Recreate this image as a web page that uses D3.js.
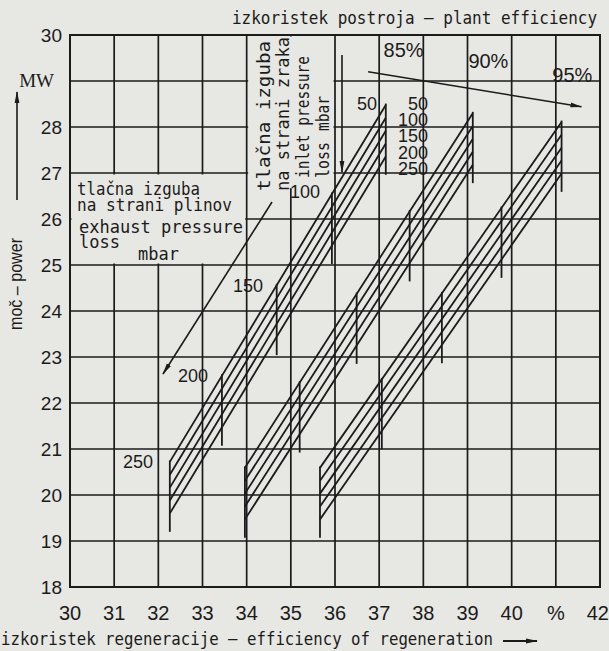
<!DOCTYPE html>
<html><head><meta charset="utf-8">
<script src="https://cdn.jsdelivr.net/npm/d3@7"></script>
<style>body{margin:0;background:#e7e7e3}svg{display:block}</style>
</head><body><svg id="chart" width="609" height="651"></svg>
<script>
// Axis ticks
const xTicks = [30, 31, 32, 33, 34, 35, 36, 37, 38, 39, 40, 41, 42];
const xTickLabels = ["30", "31", "32", "33", "34", "35", "36", "37", "38", "39", "40", "%", "42"];
const yTicks = [18, 19, 20, 21, 22, 23, 24, 25, 26, 27, 28, 29, 30];
const yTickLabels = ["18", "19", "20", "21", "22", "23", "24", "25", "26", "27", "28", "", "30"];

// Plant efficiency families, inlet pressure loss lines, exhaust pressure loss marks
const plantEfficiency = ["85%", "90%", "95%"];
const inletLoss = [50, 100, 150, 200, 250];          // mbar
const exhaustLoss = [250, 200, 150, 100];           // mbar

// 50 mbar inlet-loss line of each family: regeneration efficiency (%) and power (MW) at both ends
const regenStart = [32.26, 33.96, 35.66];
const regenEnd   = [37.15, 39.12, 41.13];
const powerStart = [20.72, 20.59, 20.59];
const powerEnd   = [28.48, 28.30, 28.11];

// Regeneration efficiency where the exhaust pressure loss steps (250|200|150|100 mbar)
const exhaustMarks85 = [33.44, 34.68, 35.93];
const exhaustMarks90 = [35.20, 36.49, 37.69];
const exhaustMarks95 = [37.06, 38.42, 39.77];

// Power drop (MW) per 50 mbar of additional inlet pressure loss
const inletStep = 0.28;

const families = plantEfficiency.map((name, k) => ({
  name,
  x0: regenStart[k], x1: regenEnd[k], p0: powerStart[k], p1: powerEnd[k],
  marks: [exhaustMarks85, exhaustMarks90, exhaustMarks95][k]
}));

const ink = "#1b1b1b";
const paper = "#e7e7e3";
const svg = d3.select("#chart");
const x = d3.scaleLinear().domain([30, 42]).range([70, 600]);
const y = d3.scaleLinear().domain([18, 30]).range([587, 35]);

svg.append("rect").attr("width", 609).attr("height", 651).attr("fill", paper);

const defs = svg.append("defs");
defs.append("marker").attr("id", "head").attr("viewBox", "0 0 12 6")
  .attr("refX", 11).attr("refY", 3).attr("markerWidth", 12).attr("markerHeight", 6)
  .attr("markerUnits", "userSpaceOnUse").attr("orient", "auto")
  .append("path").attr("d", "M0,0.6 L12,3 L0,5.4 Z").attr("fill", ink);

// Grid
const grid = svg.append("g").attr("stroke", ink).attr("stroke-width", 1.7);
grid.selectAll("line.v").data(xTicks).join("line")
  .attr("x1", d => x(d)).attr("x2", d => x(d)).attr("y1", y(18)).attr("y2", y(30));
grid.selectAll("line.h").data(yTicks).join("line")
  .attr("y1", d => y(d)).attr("y2", d => y(d)).attr("x1", x(30)).attr("x2", x(42));

// Blank fields behind the two legend texts
svg.append("rect").attr("x", x(30) + 1.5).attr("y", y(27) + 1.5)
  .attr("width", x(34) - x(30) - 3).attr("height", y(25) - y(27) - 3).attr("fill", paper);
svg.append("rect").attr("x", x(34) + 1.5).attr("y", y(30) + 1.5)
  .attr("width", x(36) - x(34) - 3).attr("height", y(26.67) - y(30) - 1.5).attr("fill", paper);

// Frame
svg.append("rect").attr("x", x(30)).attr("y", y(30)).attr("width", x(42) - x(30))
  .attr("height", y(18) - y(30)).attr("fill", "none").attr("stroke", ink).attr("stroke-width", 2);

// Tick labels
const numFont = "'Liberation Sans', Arial, sans-serif";
svg.append("g").selectAll("text").data(xTicks).join("text")
  .attr("x", d => d === 42 ? 609 : x(d)).attr("y", 620)
  .attr("text-anchor", d => d === 42 ? "end" : "middle")
  .attr("font-family", numFont).attr("font-size", 20).attr("fill", ink)
  .text((d, i) => xTickLabels[i]);
svg.append("g").selectAll("text").data(yTicks).join("text")
  .attr("x", 62).attr("y", d => y(d) + 7).attr("text-anchor", "end")
  .attr("font-family", numFont).attr("font-size", 19).attr("fill", ink)
  .text((d, i) => yTickLabels[i]);
svg.append("text").attr("x", 54).attr("y", y(29) + 6).attr("text-anchor", "end")
  .attr("font-family", "'Liberation Serif', serif").attr("font-size", 19).attr("fill", ink).text("MW");

// Axis titles
const monoFont = "'DejaVu Sans Mono', monospace";
svg.append("text").attr("x", 232).attr("y", 24)
  .attr("textLength", 365).attr("lengthAdjust", "spacingAndGlyphs")
  .attr("font-family", monoFont).attr("font-size", 17.5).attr("fill", ink)
  .text("izkoristek postroja – plant efficiency");
svg.append("text").attr("x", 1).attr("y", 645)
  .attr("textLength", 492).attr("lengthAdjust", "spacingAndGlyphs")
  .attr("font-family", monoFont).attr("font-size", 17).attr("fill", ink)
  .text("izkoristek regeneracije – efficiency of regeneration");
svg.append("line").attr("x1", 503).attr("y1", 641).attr("x2", 537).attr("y2", 641)
  .attr("stroke", ink).attr("stroke-width", 2.2).attr("marker-end", "url(#head)");
svg.append("text").attr("transform", "translate(22,284) rotate(-90)").attr("text-anchor", "middle")
  .attr("textLength", 92).attr("lengthAdjust", "spacingAndGlyphs")
  .attr("font-family", numFont).attr("font-size", 18).attr("fill", ink).text("moč – power");
svg.append("line").attr("x1", 17).attr("y1", 200).attr("x2", 17).attr("y2", 92)
  .attr("stroke", ink).attr("stroke-width", 1.6).attr("marker-end", "url(#head)");

// Families of inlet-loss lines with exhaust-loss marks
const lineG = svg.append("g").attr("stroke", ink).attr("stroke-width", 1.8).attr("fill", "none");
const last = inletLoss.length - 1;
families.forEach(f => {
  const slope = (f.p1 - f.p0) / (f.x1 - f.x0);
  const topAt = r => f.p0 + slope * (r - f.x0);
  inletLoss.forEach((il, i) => {
    lineG.append("line")
      .attr("x1", x(f.x0)).attr("y1", y(f.p0 - i * inletStep))
      .attr("x2", x(f.x1)).attr("y2", y(f.p1 - i * inletStep));
  });
  [f.x0, ...f.marks, f.x1].forEach(r => {
    lineG.append("line").attr("x1", x(r)).attr("x2", x(r))
      .attr("y1", y(topAt(r) + 0.03)).attr("y2", y(topAt(r) - last * inletStep - 0.4));
  });
});

// Plant efficiency labels and direction arrow
const pctPos = [[37.1, 29.52], [39.02, 29.28], [40.92, 28.98]];
svg.append("g").selectAll("text").data(plantEfficiency).join("text")
  .attr("x", (d, i) => x(pctPos[i][0])).attr("y", (d, i) => y(pctPos[i][1]))
  .attr("font-family", numFont).attr("font-size", 20).attr("fill", ink).text(d => d);
svg.append("line").attr("x1", x(36.75)).attr("y1", y(29.2)).attr("x2", x(41.58)).attr("y2", y(28.44))
  .attr("stroke", ink).attr("stroke-width", 1.6).attr("marker-end", "url(#head)");

// Inlet pressure loss legend (vertical text)
const rot = svg.append("g").attr("font-family", monoFont).attr("font-size", 17).attr("fill", ink);
[["tlačna izguba", 270, 191, 150], ["na strani zraka", 289, 191, 154],
 ["inlet pressure", 309, 178, 122], ["loss", 329, 178, 36], ["mbar", 329, 131, 35]]
  .forEach(t => rot.append("text")
    .attr("transform", `translate(${t[1]},${t[2]}) rotate(-90)`)
    .attr("textLength", t[3]).attr("lengthAdjust", "spacingAndGlyphs").text(t[0]));
svg.append("line").attr("x1", 342).attr("y1", 55).attr("x2", 342).attr("y2", 172)
  .attr("stroke", ink).attr("stroke-width", 1.6).attr("marker-end", "url(#head)");
svg.append("text").attr("x", 377).attr("y", 110).attr("text-anchor", "end")
  .attr("font-family", numFont).attr("font-size", 18).attr("fill", ink).text(inletLoss[0]);
svg.append("g").selectAll("text").data(inletLoss).join("text")
  .attr("x", 428).attr("y", (d, i) => 110 + i * 16.2).attr("text-anchor", "end")
  .attr("font-family", numFont).attr("font-size", 18).attr("fill", ink).text(d => d);

// Exhaust pressure loss legend
const box = svg.append("g").attr("font-family", monoFont).attr("font-size", 17).attr("fill", ink);
[["tlačna izguba", 77, 195, 123], ["na strani plinov", 77, 211, 155],
 ["exhaust pressure", 79, 233, 164], ["loss", 79, 248, null], ["mbar", 138, 260, null]]
  .forEach(t => {
    const el = box.append("text").attr("x", t[1]).attr("y", t[2]).text(t[0]);
    if (t[3]) el.attr("textLength", t[3]).attr("lengthAdjust", "spacingAndGlyphs");
  });
svg.append("line").attr("x1", 272).attr("y1", 202).attr("x2", 163).attr("y2", 374)
  .attr("stroke", ink).attr("stroke-width", 1.6).attr("marker-end", "url(#head)");
const exLabelPos = [[123, 468], [178, 382], [233, 292], [290, 198]];
svg.append("g").selectAll("text").data(exhaustLoss).join("text")
  .attr("x", (d, i) => exLabelPos[i][0]).attr("y", (d, i) => exLabelPos[i][1])
  .attr("font-family", numFont).attr("font-size", 18).attr("fill", ink).text(d => d);
</script></body></html>
